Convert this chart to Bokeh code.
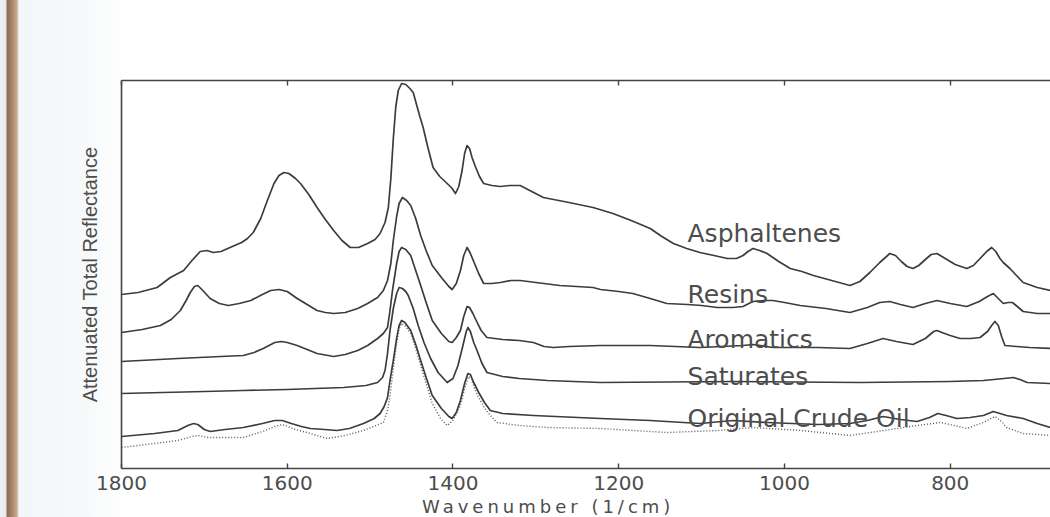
from bokeh.plotting import figure
from bokeh.models import Range1d, LinearAxis, FixedTicker, Div
from bokeh.layouts import column
from bokeh.embed import file_html
from bokeh.resources import INLINE
from bokeh.core.properties import value

# ATR-IR spectra of crude oil SARA fractions (stacked, arbitrary offset units)
asph_wn = [1800, 1780, 1757, 1741, 1725, 1715, 1705, 1697, 1689, 1680, 1669, 1655, 1648, 1641,
           1632, 1624, 1616, 1610, 1604, 1598, 1590, 1584, 1574, 1564, 1554, 1544, 1534, 1524,
           1514, 1503, 1494, 1488, 1482, 1478, 1475, 1472, 1469, 1466, 1462, 1457, 1452, 1448,
           1444, 1440, 1436, 1430, 1424, 1416, 1407, 1401, 1397, 1393, 1389, 1386, 1383, 1380,
           1377, 1373, 1368, 1363, 1353, 1343, 1331, 1319, 1305, 1291, 1260, 1231, 1207, 1185,
           1162, 1148, 1134, 1118, 1102, 1085, 1069, 1058, 1050, 1044, 1038, 1030, 1021, 1007,
           993, 979, 965, 943, 921, 909, 897, 885, 873, 866, 859, 852, 845, 838, 830, 823, 816,
           806, 794, 780, 772, 764, 756, 750, 745, 740, 736, 728, 720, 712, 695, 679]
asph_val = [174, 176, 181, 191, 198, 208, 217, 218, 216, 217, 221, 226, 230, 236,
            250, 268, 285, 293, 296, 295, 290, 285, 274, 261, 249, 238, 228, 221,
            221, 225, 229, 235, 246, 261, 290, 330, 362, 378, 385, 384, 380, 376,
            364, 352, 341, 320, 301, 292, 285, 280, 275, 282, 298, 315, 323, 320,
            311, 302, 292, 285, 283, 282, 283, 283, 277, 271, 266, 261, 255, 248,
            240, 232, 225, 220, 216, 213, 210, 210, 213, 217, 220, 218, 215, 207,
            200, 197, 193, 188, 183, 187, 196, 206, 215, 213, 207, 202, 200, 203, 209, 214, 215,
            210, 204, 200, 203, 210, 217, 221, 217, 210, 206, 200, 193, 186, 181, 178]

resin_wn = [1800, 1775, 1753, 1740, 1729, 1722, 1717, 1712, 1708, 1703, 1693, 1682, 1671, 1658,
            1644, 1630, 1620, 1610, 1600, 1588, 1576, 1564, 1554, 1544, 1530, 1515, 1503, 1491,
            1484, 1479, 1475, 1472, 1468, 1465, 1461, 1456, 1451, 1445, 1439, 1432, 1425, 1414,
            1405, 1401, 1396, 1391, 1387, 1383, 1379, 1375, 1369, 1363, 1353, 1343, 1330, 1319,
            1300, 1271, 1231, 1222, 1200, 1183, 1162, 1142, 1117, 1100, 1081, 1062, 1050, 1043,
            1038, 1025, 1014, 1000, 981, 950, 921, 900, 885, 873, 860, 845, 830, 816, 800, 780,
            765, 755, 748, 742, 736, 730, 725, 719, 712, 695, 679]
resin_val = [136, 139, 143, 149, 158, 168, 176, 182, 183, 179, 170, 165, 163, 165,
             168, 174, 178, 179, 177, 170, 164, 158, 156, 155, 156, 160, 165, 171,
             178, 188, 205, 228, 252, 265, 271, 268, 263, 250, 233, 217, 203, 191,
             182, 179, 185, 198, 213, 221, 215, 207, 195, 185, 185, 186, 188, 188,
             186, 183, 181, 179, 177, 175, 170, 165, 164, 163, 161, 161, 162, 165,
             167, 168, 168, 166, 163, 160, 156, 161, 166, 167, 164, 161, 165, 168, 165, 162,
             167, 172, 175, 170, 165, 166, 166, 162, 157, 155, 155]

arom_wn = [1800, 1732, 1680, 1653, 1640, 1629, 1615, 1607, 1600, 1588, 1576, 1564, 1544, 1530,
           1515, 1503, 1491, 1484, 1479, 1476, 1473, 1468, 1465, 1462, 1457, 1451, 1445, 1439,
           1432, 1425, 1414, 1405, 1401, 1396, 1391, 1387, 1383, 1380, 1376, 1372, 1366, 1359,
           1340, 1320, 1303, 1290, 1279, 1260, 1222, 1162, 1102, 1050, 1038, 1014, 960, 921,
           900, 881, 865, 845, 830, 820, 816, 810, 800, 788, 775, 764, 755, 750, 746, 742,
           738, 734, 720, 704, 679]
arom_val = [107, 110, 112, 113, 116, 120, 126, 127, 126, 123, 119, 115, 112, 114,
            118, 123, 130, 135, 141, 158, 178, 205, 217, 221, 219, 213, 198, 183,
            165, 148, 135, 127, 126, 131, 138, 152, 162, 161, 155, 148, 138, 131,
            129, 128, 126, 122, 121, 122, 123, 123, 121, 123, 124, 121, 121, 120,
            125, 130, 127, 124, 130, 137, 138, 136, 133, 130, 130, 131, 137, 143, 147, 143,
            132, 123, 122, 121, 120]

sat_wn = [1800, 1700, 1653, 1600, 1532, 1505, 1491, 1485, 1482, 1479, 1476, 1472, 1468, 1465,
          1461, 1457, 1454, 1448, 1442, 1435, 1427, 1418, 1407, 1400, 1394, 1388, 1384, 1382,
          1379, 1375, 1371, 1365, 1359, 1340, 1320, 1286, 1222, 1062, 909, 800, 760, 735, 724,
          716, 707, 679]
sat_val = [75, 77, 78, 79, 81, 83, 86, 91, 98, 115, 138, 160, 175, 181,
           180, 177, 173, 160, 143, 126, 110, 96, 86, 90, 103, 123, 137, 141,
           137, 126, 118, 105, 96, 92, 90, 88, 86, 87, 86, 87, 88, 90, 91,
           89, 86, 85]

crude_wn = [1800, 1760, 1732, 1720, 1713, 1708, 1700, 1693, 1675, 1653, 1630, 1615, 1606, 1595,
            1583, 1572, 1555, 1540, 1525, 1508, 1495, 1488, 1483, 1479, 1476, 1472, 1468, 1465,
            1462, 1458, 1451, 1445, 1439, 1432, 1425, 1414, 1405, 1401, 1396, 1391, 1386, 1382,
            1379, 1375, 1369, 1362, 1355, 1340, 1303, 1222, 1162, 1102, 1062, 1021, 960, 921,
            900, 881, 860, 840, 825, 815, 805, 792, 776, 760, 748, 740, 732, 712, 695, 679]
crude_val = [32, 35, 38, 43, 45, 44, 39, 37, 39, 41, 45, 48, 48, 45,
             42, 40, 39, 38, 40, 45, 50, 55, 62, 71, 88, 108, 130, 143,
             148, 146, 138, 124, 108, 90, 73, 60, 52, 50, 56, 68, 85, 95,
             94, 86, 76, 66, 58, 55, 53, 50, 48, 45, 48, 46, 44, 45,
             48, 52, 49, 47, 51, 55, 53, 50, 51, 53, 57, 55, 53, 50, 45, 41]

crude2_wn = [1800, 1760, 1732, 1715, 1708, 1695, 1653, 1630, 1615, 1606, 1590, 1572, 1552, 1530,
             1508, 1484, 1479, 1476, 1472, 1468, 1465, 1462, 1457, 1451, 1445, 1439, 1432, 1425,
             1415, 1407, 1400, 1391, 1386, 1381, 1378, 1374, 1369, 1360, 1347, 1320, 1286, 1222,
             1142, 1080, 1038, 980, 921, 880, 840, 812, 795, 780, 760, 746, 738, 732, 712, 679]
crude2_val = [21, 25, 28, 32, 33, 31, 31, 37, 42, 44, 39, 35, 30, 33,
              38, 46, 58, 73, 100, 125, 140, 145, 142, 135, 120, 103, 84, 65,
              50, 43, 48, 63, 80, 92, 90, 80, 71, 58, 46, 43, 41, 40,
              36, 38, 41, 38, 33, 38, 43, 46, 43, 40, 46, 52, 47, 41, 35, 33]

fractions = ["Asphaltenes", "Resins", "Aromatics", "Saturates", "Original Crude Oil"]
x_ticks = [1800, 1600, 1400, 1200, 1000, 800]

INK = "#3c3c3c"
TEXT = "#4d4d4d"
PAPER = ("linear-gradient(to right, #eef2f3 0px, #e7ebec 6px, #8d6a4f 7px, #a88567 12px, "
         "#c8ad95 17px, #f2f6f8 19px, #f7fafb 90px, #ffffff 125px)")

p = figure(width=1050, height=499, output_backend="svg", toolbar_location=None,
           x_range=Range1d(1800, 679), y_range=Range1d(0, 388),
           x_axis_location=None, y_axis_location=None,
           min_border_left=121, min_border_right=0, min_border_top=80, min_border_bottom=31)
p.grid.visible = False
p.outline_line_color = None
p.background_fill_color = None
p.border_fill_color = None
p.styles = {"background": PAPER}

# frame: bottom and top axes with inward ticks, plain left edge
bottom = LinearAxis(ticker=FixedTicker(ticks=x_ticks), major_tick_in=5, major_tick_out=0,
                    minor_tick_line_color=None, axis_line_color="#444444", axis_line_width=1.6,
                    major_tick_line_color="#444444", major_tick_line_width=1.4,
                    major_label_text_font="DejaVu Sans", major_label_text_font_size="20px",
                    major_label_text_color=TEXT, major_label_standoff=7)
p.add_layout(bottom, "below")

top = LinearAxis(ticker=FixedTicker(ticks=x_ticks), major_tick_in=5, major_tick_out=0,
                 minor_tick_line_color=None, axis_line_color="#444444", axis_line_width=1.6,
                 major_tick_line_color="#444444", major_tick_line_width=1.4,
                 major_label_text_font_size="0px", major_label_text_color=None)
p.add_layout(top, "above")

left = LinearAxis(ticker=FixedTicker(ticks=[]), major_tick_line_color=None,
                  minor_tick_line_color=None, axis_line_color="#444444", axis_line_width=1.6,
                  major_label_text_font_size="0px",
                  axis_label="Attenuated Total Reflectance",
                  axis_label_text_font="Liberation Sans",
                  axis_label_text_font_size="20px", axis_label_text_font_style="normal",
                  axis_label_text_color=TEXT, axis_label_standoff=21)
p.add_layout(left, "left")

# spectra
for xs, ys in [(asph_wn, asph_val), (resin_wn, resin_val), (arom_wn, arom_val),
               (sat_wn, sat_val), (crude_wn, crude_val)]:
    p.line(xs, ys, line_color=INK, line_width=1.7, line_join="round")
p.line(crude2_wn, crude2_val, line_color="#555555", line_width=1.4, line_dash="1 2")

# curve names
name_x = [1117] * 5
name_y = [235, 174, 129, 92, 50]
p.text(x=name_x, y=name_y, text=fractions, text_font=value("DejaVu Sans"),
       text_font_size="25px", text_color=TEXT, text_baseline="alphabetic", text_align="left")

# axis title sits in a strip beneath the plot
x_title = Div(text='<span style="display:block; height:18px; line-height:15px; '
                   'padding-left:422px; white-space:nowrap; letter-spacing:4px; '
                   'font-family:\'DejaVu Sans\'; font-size:18px; '
                   'color:#4d4d4d">Wavenumber (1/cm)</span>',
              width=1050, height=18, margin=0, styles={"background": PAPER})

layout = column(p, x_title, spacing=0)
open("out.html", "w").write(file_html(layout, INLINE))
